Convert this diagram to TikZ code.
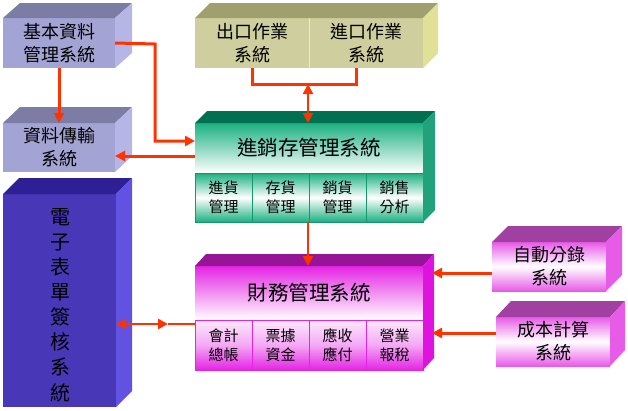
\documentclass[tikz,border=0pt]{standalone}
\usepackage{fontspec}
\setmainfont{Noto Sans CJK TC}
\usetikzlibrary{arrows.meta}
\definecolor{lavfront}{RGB}{164,164,212}
\definecolor{lavtop}{RGB}{124,124,164}
\definecolor{lavside}{RGB}{182,182,230}
\definecolor{khfront}{RGB}{206,206,158}
\definecolor{khtop}{RGB}{160,160,110}
\definecolor{khside}{RGB}{224,224,150}
\definecolor{efront}{RGB}{72,56,184}
\definecolor{etop}{RGB}{46,32,148}
\definecolor{eside}{RGB}{98,82,226}
\definecolor{gmain}{RGB}{26,176,128}
\definecolor{gtop}{RGB}{0,112,80}
\definecolor{gside}{RGB}{34,162,122}
\definecolor{gline}{RGB}{20,150,110}
\definecolor{mmain}{RGB}{228,36,228}
\definecolor{mtop}{RGB}{150,20,150}
\definecolor{mside}{RGB}{222,20,222}
\definecolor{smtop}{RGB}{160,64,160}
\definecolor{smside}{RGB}{230,92,230}
\definecolor{smfront}{RGB}{232,90,232}
\definecolor{arrred}{RGB}{255,51,0}
\newcommand\boxsides[5]{%
  \fill[#4] (#1.north west) -- ++(#2,#3) -- ([shift={(#2,#3)}]#1.north east) -- (#1.north east) -- cycle;
  \fill[#5] (#1.north east) -- ++(#2,#3) -- ([shift={(#2,#3)}]#1.south east) -- (#1.south east) -- cycle;}
\newcommand\boxsidesb[6]{%
  \fill[#5] (#1.north west) -- ++(#3,#4) -- ([shift={(#3,#4)}]#1.north east) -- (#1.north east) -- cycle;
  \fill[#6] (#1.north east) -- ++(#3,#4) -- ([shift={(#3,#4)}]#2.south east) -- (#2.south east) -- cycle;}
\tikzset{
  >={Triangle[length=10pt,width=10pt]},
  face/.style={inner sep=0pt, outer sep=0pt, align=center, text=black},
  bigtxt/.style={font=\fontsize{18}{23}\selectfont},
  titletxt/.style={font=\fontsize{20.5}{24}\selectfont},
  subtxt/.style={font=\fontsize{15}{19}\selectfont},
  arr/.style={draw=arrred, line width=3pt, ->},
  arrthin/.style={draw=arrred, line width=2pt},
  gsub/.style={face, subtxt, minimum width=57pt, minimum height=49pt, draw=gline, line width=0.8pt,
    top color=gmain, bottom color=gmain, middle color=white},
  msub/.style={face, subtxt, minimum width=57pt, minimum height=50pt, draw=mmain, line width=0.8pt,
    top color=white!90!mmain, bottom color=mmain, middle color=white!60!mmain},
}
\begin{document}
\begin{tikzpicture}[x=1pt,y=-1pt]
\useasboundingbox (0,0) rectangle (628,410);
\fill[white] (0,0) rectangle (628,410);

% left boxes
\node[face, bigtxt, fill=lavfront, minimum width=112pt, minimum height=50pt] (b1) at (59,43) {基本資料\\管理系統};
\boxsides{b1}{17}{-15}{lavtop}{lavside}
\node[face, bigtxt, fill=lavfront, minimum width=112pt, minimum height=49pt] (b2) at (59,147.5) {資料傳輸\\系統};
\boxsides{b2}{17}{-16}{lavtop}{lavside}
\node[face, fill=efront, minimum width=113pt, minimum height=213pt] (e) at (59.5,300.5) {};
\boxsides{e}{16}{-16}{etop}{eside}
\node[face, font=\fontsize{20}{25.1}\selectfont] (et) at (60,305) {電\\子\\表\\單\\簽\\核\\系\\統};

% top khaki box
\node[face, bigtxt, fill=khfront, minimum width=114pt, minimum height=50pt] (kL) at (252,43) {出口作業\\系統};
\node[face, bigtxt, fill=khfront, minimum width=114pt, minimum height=50pt] (kR) at (366,43) {進口作業\\系統};
\draw[white!60!khfront, line width=0.8pt] (kL.north east) -- (kL.south east);
\fill[khtop] (kL.north west) -- ++(15,-15) -- ([shift={(15,-15)}]kR.north east) -- (kR.north east) -- cycle;
\fill[khside] (kR.north east) -- ++(15,-15) -- ([shift={(15,-15)}]kR.south east) -- (kR.south east) -- cycle;

% green box
\node[face, titletxt, minimum width=228pt, minimum height=50pt, top color=gmain, bottom color=white] (g) at (309,148) {\raisebox{-4pt}{進銷存管理系統}};
\node[gsub, anchor=north west] (g1) at (195,173) {進貨\\管理};
\node[gsub, anchor=north west] (g2) at (252,173) {存貨\\管理};
\node[gsub, anchor=north west] (g3) at (309,173) {銷貨\\管理};
\node[gsub, anchor=north west] (g4) at (366,173) {銷售\\分析};
\boxsidesb{g}{g4}{12}{-12}{gtop}{gside}

% magenta box
\node[face, titletxt, minimum width=228pt, minimum height=54pt, top color=mmain, bottom color=white] (m) at (309,293) {\raisebox{-4pt}{財務管理系統}};
\node[msub, anchor=north west] (m1) at (195,320) {會計\\總帳};
\node[msub, anchor=north west] (m2) at (252,320) {票據\\資金};
\node[msub, anchor=north west] (m3) at (309,320) {應收\\應付};
\node[msub, anchor=north west] (m4) at (366,320) {營業\\報稅};
\boxsidesb{m}{m4}{11}{-12}{mtop}{mside}

% right small boxes
\node[face, bigtxt, minimum width=114pt, minimum height=49pt, top color=smfront, bottom color=smfront, middle color=white] (r1) at (549,266.5) {自動分錄\\系統};
\boxsides{r1}{16}{-16}{smtop}{smside}
\node[face, bigtxt, minimum width=114pt, minimum height=49pt, top color=smfront, bottom color=smfront, middle color=white] (r2) at (553,341.5) {成本計算\\系統};
\boxsides{r2}{15}{-16}{smtop}{smside}

% connectors
\draw[arr] (b1.south) -- (b2.north);
\draw[arr] (b1.east) -- (155,44) |- (g.west |- 0,141);
\draw[arr] (g.west |- 0,156) -- (b2.east |- 0,156);
\coordinate (j) at (308,84);
\draw[arrred, line width=3pt, line join=miter] (kL.south) |- ([xshift=-10pt]kR.south |- j) -- ([xshift=-10pt]kR.south);
\draw[arrthin, <->] (j) -- (308,123);
\draw[arrthin, line width=2.5pt, ->] (308,222) -- (308,266);
\coordinate (m5) at (432,273);
\coordinate (m6) at (432,333);
\draw[arr] (r1.west |- m5) -- (m5);
\draw[arr] (r2.west |- m6) -- (m6);
\coordinate (em) at (168,324);
\draw[arrthin, line width=2.5pt, <->] (e.east |- em) -- (em);
\draw[arrthin, line width=2.5pt] (em) -- (m1.west |- em);
\end{tikzpicture}
\end{document}
